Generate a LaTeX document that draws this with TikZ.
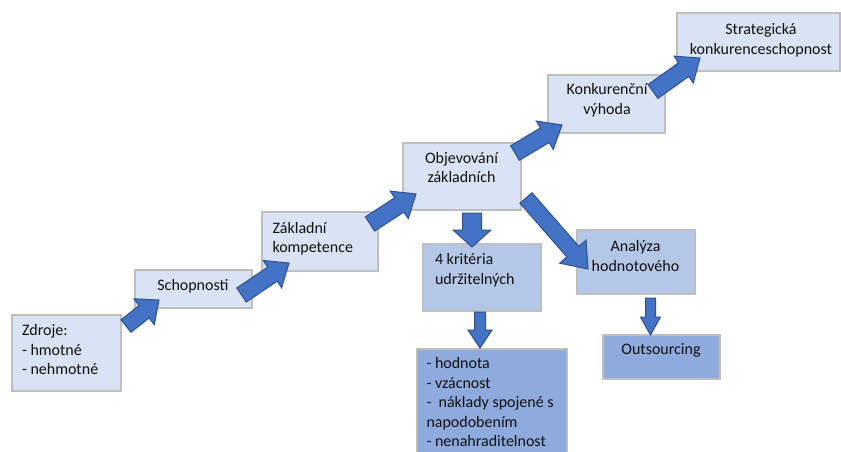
\documentclass[tikz,border=0pt]{standalone}
\usepackage{fontspec}
\setmainfont{Carlito}
\usetikzlibrary{calc}
\definecolor{lightfill}{HTML}{DAE3F3}
\definecolor{midfill}{HTML}{B4C7E7}
\definecolor{darkfill}{HTML}{8FAADC}
\definecolor{boxline}{HTML}{BFBFBF}
\definecolor{arrowfill}{HTML}{4472C4}
\definecolor{arrowline}{HTML}{2F528F}
\definecolor{txt}{HTML}{111111}
\tikzset{
  boxbase/.style={draw=boxline, line width=1.3pt, inner sep=0pt, outer sep=0pt, anchor=north west},
  lbox/.style={boxbase, fill=lightfill},
  mbox/.style={boxbase, fill=midfill},
  dbox/.style={boxbase, fill=darkfill},
  lbl/.style={inner sep=0pt, outer sep=0pt, text=txt, font=\fontsize{16}{19.5}\selectfont},
  lblL/.style={lbl, align=left, anchor=north west},
  lblC/.style={lbl, align=center, anchor=north},
  fatarrowsty/.style={fill=arrowfill, draw=arrowline, line width=1pt, line join=miter}
}
% #1 tail, #2 tip, #3 half shaft width, #4 half head width, #5 head length
\newcommand\fatarrow[5]{%
  \coordinate (fah) at ($(#2)!#5pt!(#1)$);
  \draw[fatarrowsty] ($(#1)!#3pt!90:(#2)$) -- ($(fah)!#3pt!90:(#2)$) -- ($(fah)!#4pt!90:(#2)$) -- (#2)
     -- ($(fah)!#4pt!-90:(#2)$) -- ($(fah)!#3pt!-90:(#2)$) -- ($(#1)!#3pt!-90:(#2)$) -- cycle;}
\begin{document}
\begin{tikzpicture}[x=1pt, y=-1pt]
\clip (0,0) rectangle (841,452);
\fill[white] (0,0) rectangle (841,452);

% boxes
\node[lbox, minimum width=109, minimum height=76] (zdroje) at (12,315) {};
\node[lbox, minimum width=117, minimum height=38] (schop) at (135,270) {};
\node[lbox, minimum width=116, minimum height=59] (zakl) at (262,212) {};
\node[lbox, minimum width=118, minimum height=67] (objev) at (403,143) {};
\node[lbox, minimum width=117, minimum height=58] (konk) at (548,75) {};
\node[lbox, minimum width=163, minimum height=58] (strat) at (677,13) {};
\node[mbox, minimum width=118, minimum height=67] (krit) at (423,244) {};
\node[mbox, minimum width=118, minimum height=64] (anal) at (577,230) {};
\node[dbox, minimum width=117, minimum height=44] (outs) at (603,335) {};
\node[dbox, minimum width=150, minimum height=115] (list) at (417,349) {};

% texts
\node[lblL] (tzdroje) at (22,322) {\strut Zdroje:\\\strut - hmotné\\\strut - nehmotné};
\node[lblC] (tschop) at (193,277) {\strut Schopnosti};
\node[lblL] (tzakl) at (272.5,219.5) {\strut Základní\\\strut kompetence};
\node[lblC] (tobjev) at (461.5,149.5) {\strut Objevování\\\strut základních};
\node[lblC] (tkonk) at (607,81) {\strut Konkurenční\\\strut výhoda};
\node[lblC] (tstrat) at (761,21) {\strut Strategická\\\strut konkurenceschopnost};
\node[lblL] (tkrit) at (435,251) {\strut 4 kritéria\\\strut udržitelných};
\node[lblC] (tanal) at (635.5,238) {\strut Analýza\\\strut hodnotového};
\node[lblC] (touts) at (661,341) {\strut Outsourcing};
\node[lblL] (tlist) at (426.5,355) {\strut - hodnota\\\strut - vzácnost\\\strut -\ \ náklady spojené s\\\strut napodobením\\\strut - nenahraditelnost};

% connector end points
\coordinate (a1t) at (126,326);   \coordinate (a1h) at (159,300);
\coordinate (a2t) at (241.5,295); \coordinate (a2h) at (289,263);
\coordinate (a3t) at (370,224);   \coordinate (a3h) at (416,194);
\coordinate (a4t) at (515,153);   \coordinate (a4h) at (562,125);
\coordinate (a5t) at (653,91.5);  \coordinate (a5h) at (700,58);
\coordinate (a6t) at (526,198);   \coordinate (a6h) at (588,269);
\coordinate (a7t) at (472,213);   \coordinate (a7h) at (472,247);
\coordinate (a8t) at (480,312);   \coordinate (a8h) at (480,348);
\coordinate (a9t) at (650.5,298); \coordinate (a9h) at (650.5,335);

% block arrows
\fatarrow{a1t}{a1h}{8}{16.5}{19}
\fatarrow{a2t}{a2h}{8.5}{16.5}{20}
\fatarrow{a3t}{a3h}{8.5}{16.5}{20}
\fatarrow{a4t}{a4h}{8.5}{16.5}{20}
\fatarrow{a5t}{a5h}{8.5}{16.5}{20}
\fatarrow{a6t}{a6h}{8}{17.5}{23}
\fatarrow{a7t}{a7h}{9.5}{19}{17}
\fatarrow{a8t}{a8h}{5.5}{12}{18}
\fatarrow{a9t}{a9h}{5}{10}{18}
\end{tikzpicture}
\end{document}
